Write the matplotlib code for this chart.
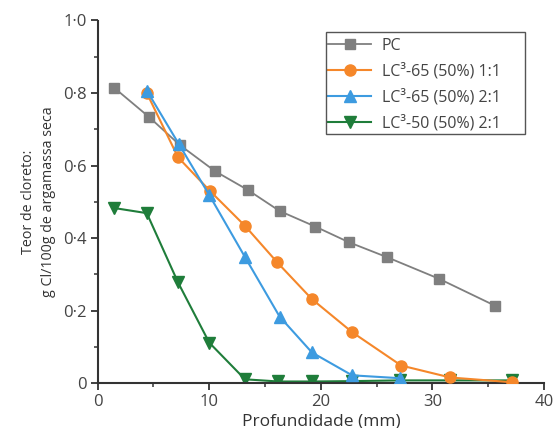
import matplotlib
matplotlib.use("Agg")
import matplotlib.pyplot as plt
from matplotlib.ticker import MultipleLocator, FuncFormatter
from matplotlib.patches import Rectangle

plt.rcParams['font.family'] = ['Open Sans', 'DejaVu Sans']

pc_x = [1.5, 4.6, 7.35, 10.5, 13.45, 16.3, 19.5, 22.5, 25.9, 30.6, 35.6]
pc_y = [0.814, 0.734, 0.657, 0.585, 0.533, 0.475, 0.432, 0.389, 0.348, 0.288, 0.214]

lc65_11_x = [4.4, 7.2, 10.1, 13.2, 16.1, 19.2, 22.8, 27.2, 31.6, 37.1]
lc65_11_y = [0.80, 0.623, 0.529, 0.434, 0.333, 0.232, 0.141, 0.049, 0.016, 0.003]

lc65_21_x = [4.4, 7.26, 10.0, 13.2, 16.3, 19.2, 22.8, 27.1]
lc65_21_y = [0.807, 0.66, 0.519, 0.348, 0.184, 0.085, 0.022, 0.014]

lc50_21_x = [1.5, 4.4, 7.2, 10.0, 13.2, 16.2, 19.2, 22.8, 27.1, 31.6, 37.1]
lc50_21_y = [0.483, 0.469, 0.278, 0.112, 0.011, 0.005, 0.005, 0.006, 0.008, 0.008, 0.008]

labels = ['PC', 'LC³-65 (50%) 1:1', 'LC³-65 (50%) 2:1', 'LC³-50 (50%) 2:1']
colors = ['#7f7f7f', '#f5872a', '#3d9be0', '#1f7d3a']

fig = plt.figure(figsize=(5.54, 4.28), dpi=100)
ax = fig.add_axes([97.7 / 554, 1 - 383.3 / 428, 446.3 / 554, 362.8 / 428])

ax.plot(pc_x, pc_y, '-s', color=colors[0], lw=1.3, ms=7, label=labels[0], zorder=3)
ax.plot(lc65_11_x, lc65_11_y, '-o', color=colors[1], lw=1.5, ms=8, label=labels[1], zorder=4)
ax.plot(lc65_21_x, lc65_21_y, '-^', color=colors[2], lw=1.5, ms=8, label=labels[2], zorder=5)
ax.plot(lc50_21_x, lc50_21_y, '-v', color=colors[3], lw=1.5, ms=8, label=labels[3], zorder=2)

ax.set_xlim(0, 40)
ax.set_ylim(0, 1.0)
for s in ['top', 'right']:
    ax.spines[s].set_visible(False)
for s in ['left', 'bottom']:
    ax.spines[s].set_color('#333333')
    ax.spines[s].set_linewidth(1.5)

ax.xaxis.set_major_locator(MultipleLocator(10))
ax.xaxis.set_minor_locator(MultipleLocator(5))
ax.yaxis.set_major_locator(MultipleLocator(0.2))
ax.yaxis.set_minor_locator(MultipleLocator(0.1))

def yfmt(v, pos):
    if abs(v) < 1e-9:
        return '0'
    return f'{v:.1f}'.replace('.', '·')

ax.yaxis.set_major_formatter(FuncFormatter(yfmt))
ax.tick_params(axis='both', which='major', length=5, width=1.3, color='#333333',
               labelsize=12, labelcolor='#444444', direction='out', pad=3)
ax.tick_params(axis='both', which='minor', length=3, width=1.1, color='#333333', direction='out')

ax.set_xlabel('Profundidade (mm)', fontsize=12.5, color='#333333', labelpad=2)
ax.set_ylabel('Teor de cloreto:\ng Cl/100g de argamassa seca', fontsize=10.3, color='#333333',
              labelpad=5, linespacing=1.5)

leg = ax.legend(loc='upper left', bbox_to_anchor=(0.5035, 0.968), fontsize=11.5,
                frameon=False, handlelength=2.7,
                borderpad=0.35, labelspacing=0.6, handletextpad=0.65, borderaxespad=0)
for t in leg.get_texts():
    t.set_color('#444444')
ax.add_patch(Rectangle((0.511, 0.687), 0.446, 0.281, transform=ax.transAxes,
                       fill=False, ec='#555555', lw=1.0, zorder=6))

fig.savefig('out.png', dpi=100)
